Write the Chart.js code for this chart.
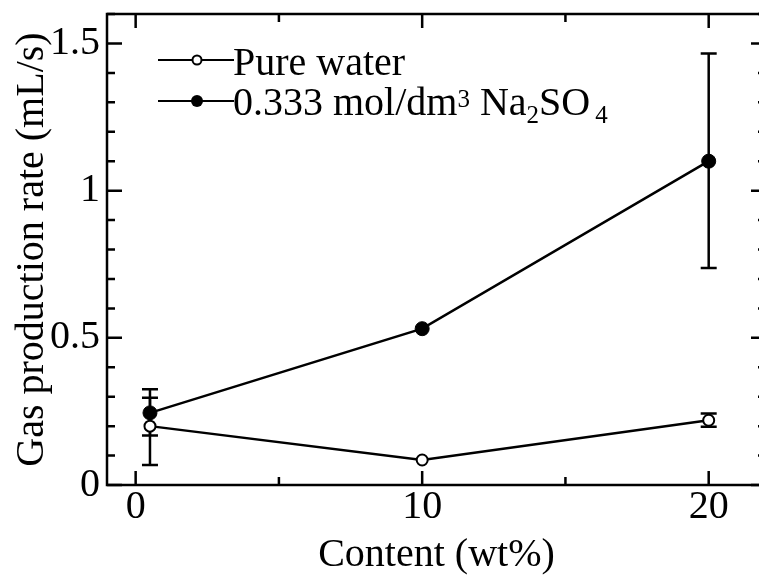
<!DOCTYPE html>
<html>
<head>
<meta charset="utf-8">
<script src="https://cdn.jsdelivr.net/npm/chart.js@4/dist/chart.umd.min.js"></script>
<style>
    html, body { margin: 0; padding: 0; background: #fff; overflow: hidden; }
    #wrap { width: 780px; height: 575px; }
</style>
</head>
<body>
<div id="wrap"><canvas id="myChart" width="780" height="575"></canvas></div>
<script>
// salt content of the sample (wt%)
const contents = [0.5, 10, 20];

// gas production rate (mL/s)
const pureWater = [0.20, 0.085, 0.22];
const pureWaterLow = [0.068, null, 0.198];
const pureWaterHigh = [0.325, null, 0.243];

const sodiumSulfate = [0.245, 0.531, 1.10];
const sodiumSulfateLow = [0.168, null, 0.737];
const sodiumSulfateHigh = [0.296, null, 1.466];

const xTickLabels = ["0", "10", "20"];
const yTickLabels = ["0", "0.5", "1", "1.5"];

const FONT = "'Liberation Serif', 'Times New Roman', serif";

function points(xs, ys) {
    return xs.map((x, i) => ({ x: x, y: ys[i] }));
}

// tick values every `step` from `from` to `to`
function tickRange(from, to, step) {
    const out = [];
    const n = Math.round((to - from) / step);
    for (let i = 0; i <= n; i++) out.push({ value: Number((from + i * step).toFixed(3)) });
    return out;
}

// legend rows: each is a list of text pieces (normal / superscript / subscript)
const legendRows = [
    { filled: false, parts: [{ t: "Pure water" }] },
    { filled: true, parts: [
        { t: "0.333 mol/dm" }, { t: "3", sup: true }, { t: " Na" },
        { t: "2", sub: true }, { t: "SO" }, { t: "4", sub: true, gap: 5 }
    ] }
];

// error bars drawn under the markers
const errorBars = {
    id: "errorBars",
    beforeDatasetsDraw(chart) {
        const ctx = chart.ctx;
        const xs = chart.scales.x, ys = chart.scales.y;
        ctx.save();
        ctx.strokeStyle = "#000";
        ctx.lineWidth = 2.5;
        chart.data.datasets.forEach(ds => {
            ds.low.forEach((lo, i) => {
                const hi = ds.high[i];
                if (lo == null || hi == null) return;
                const px = xs.getPixelForValue(contents[i]);
                const y1 = ys.getPixelForValue(lo), y2 = ys.getPixelForValue(hi);
                ctx.beginPath();
                ctx.moveTo(px, y1); ctx.lineTo(px, y2);
                ctx.moveTo(px - 8, y1); ctx.lineTo(px + 8, y1);
                ctx.moveTo(px - 8, y2); ctx.lineTo(px + 8, y2);
                ctx.stroke();
            });
        });
        ctx.restore();
    }
};

// box frame with inward ticks on all four sides
const frameTicks = {
    id: "frameTicks",
    afterDraw(chart) {
        const ctx = chart.ctx;
        const a = chart.chartArea;
        const xs = chart.scales.x, ys = chart.scales.y;
        ctx.save();
        ctx.strokeStyle = "#000";
        ctx.lineWidth = 2.5;
        ctx.strokeRect(a.left, a.top, a.right - a.left, a.bottom - a.top);
        ctx.beginPath();
        xs.ticks.forEach(t => {
            const px = xs.getPixelForValue(t.value);
            const len = Math.abs(t.value % 10) < 1e-6 ? 14 : 8;
            ctx.moveTo(px, a.bottom); ctx.lineTo(px, a.bottom - len);
            ctx.moveTo(px, a.top); ctx.lineTo(px, a.top + len);
        });
        ys.ticks.forEach(t => {
            const py = ys.getPixelForValue(t.value);
            const major = Math.abs(t.value * 2 - Math.round(t.value * 2)) < 1e-6;
            const len = major ? 15 : 8;
            ctx.moveTo(a.left, py); ctx.lineTo(a.left + len, py);
            ctx.moveTo(a.right, py); ctx.lineTo(a.right - len, py);
        });
        ctx.stroke();
        ctx.restore();
    }
};

const seriesKey = {
    id: "seriesKey",
    afterDatasetsDraw(chart) {
        const ctx = chart.ctx;
        const lineY = [60, 101];
        const baseY = [75, 115];
        ctx.save();
        ctx.strokeStyle = "#000";
        ctx.fillStyle = "#000";
        legendRows.forEach((row, r) => {
            ctx.lineWidth = 2;
            ctx.beginPath();
            ctx.moveTo(158, lineY[r]); ctx.lineTo(234, lineY[r]);
            ctx.stroke();
            ctx.beginPath();
            if (row.filled) {
                ctx.arc(197, lineY[r], 6, 0, Math.PI * 2);
                ctx.fillStyle = "#000";
                ctx.fill();
            } else {
                ctx.arc(197, lineY[r], 4.5, 0, Math.PI * 2);
                ctx.fillStyle = "#fff";
                ctx.fill();
                ctx.stroke();
            }
            ctx.fillStyle = "#000";
            ctx.textBaseline = "alphabetic";
            let x = 233;
            row.parts.forEach(p => {
                const small = p.sup || p.sub;
                ctx.font = (small ? "25px " : "40px ") + FONT;
                x += p.gap || 0;
                let y = baseY[r];
                if (p.sup) y -= 8;
                if (p.sub) y += 8;
                ctx.fillText(p.t, x, y);
                x += ctx.measureText(p.t).width;
            });
        });
        ctx.restore();
    }
};

const ctx = document.getElementById("myChart").getContext("2d");
new Chart(ctx, {
    type: "scatter",
    data: {
        datasets: [
            {
                label: "Pure water",
                data: points(contents, pureWater),
                low: pureWaterLow,
                high: pureWaterHigh,
                showLine: true,
                borderColor: "#000",
                borderWidth: 2.5,
                pointRadius: 5.5,
                pointBorderWidth: 2,
                pointBackgroundColor: "#fff",
                pointBorderColor: "#000"
            },
            {
                label: "0.333 mol/dm3 Na2SO4",
                data: points(contents, sodiumSulfate),
                low: sodiumSulfateLow,
                high: sodiumSulfateHigh,
                showLine: true,
                borderColor: "#000",
                borderWidth: 2.5,
                pointRadius: 7,
                pointBorderWidth: 1,
                pointBackgroundColor: "#000",
                pointBorderColor: "#000"
            }
        ]
    },
    options: {
        responsive: false,
        animation: false,
        layout: { padding: { top: 14, right: 14, left: 0, bottom: 0 } },
        plugins: {
            legend: { display: false },
            tooltip: { enabled: false }
        },
        scales: {
            x: {
                type: "linear",
                min: -1,
                max: 22,
                grid: { display: false, drawTicks: false },
                border: { display: false },
                afterBuildTicks: s => { s.ticks = tickRange(0, 20, 5); },
                afterFit: s => {
                    s.height = 90;
                    s.paddingLeft = 0;
                    s.paddingRight = 0;
                },
                ticks: {
                    autoSkip: false,
                    maxRotation: 0,
                    padding: 2,
                    color: "#000",
                    font: { family: FONT, size: 40, lineHeight: 1 },
                    callback: v => {
                        const lbl = String(v);
                        return xTickLabels.includes(lbl) ? lbl : "";
                    }
                },
                title: {
                    display: true,
                    text: "Content (wt%)",
                    color: "#000",
                    padding: { top: 0, bottom: 0 },
                    font: { family: FONT, size: 40, lineHeight: 1 }
                }
            },
            y: {
                min: 0,
                max: 1.6,
                grid: { display: false, drawTicks: false },
                border: { display: false },
                afterBuildTicks: s => { s.ticks = tickRange(0, 1.6, 0.1); },
                afterFit: s => {
                    s.width = 107;
                    s.paddingTop = 0;
                    s.paddingBottom = 0;
                },
                ticks: {
                    autoSkip: false,
                    padding: 7,
                    color: "#000",
                    font: { family: FONT, size: 40, lineHeight: 1 },
                    callback: v => {
                        const lbl = String(Number(v.toFixed(1)));
                        return yTickLabels.includes(lbl) ? lbl : "";
                    }
                },
                title: {
                    display: true,
                    text: "Gas production rate (mL/s)",
                    color: "#000",
                    padding: { top: 12, bottom: 0 },
                    font: { family: FONT, size: 40, lineHeight: 1 }
                }
            }
        }
    },
    plugins: [errorBars, frameTicks, seriesKey]
});
</script>
</body>
</html>
